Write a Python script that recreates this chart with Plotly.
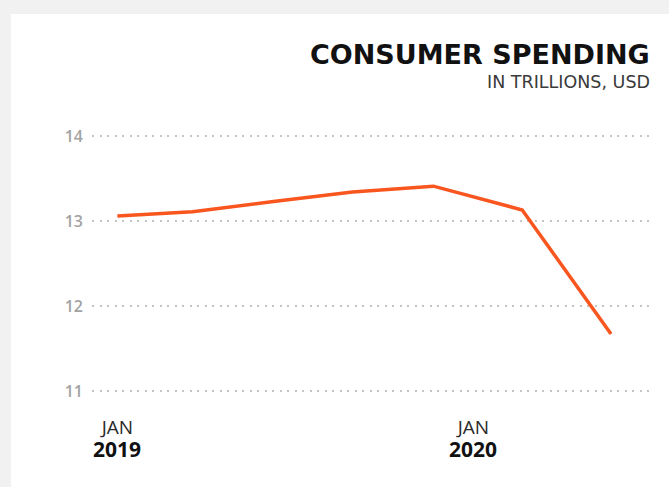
import plotly.graph_objects as go

# Consumer spending, trillions of USD
dates = ["2019-01-01", "2019-03-19", "2019-06-10", "2019-08-30",
         "2019-11-21", "2020-02-20", "2020-05-21"]
spending = [13.06, 13.11, 13.23, 13.34, 13.41, 13.13, 11.67]

y_ticks = [11, 12, 13, 14]
x_tick_dates = ["2019-01-01", "2020-01-01"]
x_tick_months = ["JAN", "JAN"]
x_tick_years = ["2019", "2020"]

title_text = "CONSUMER SPENDING"
subtitle_text = "IN TRILLIONS, USD"

ORANGE = "#F9561F"
X_RANGE = ["2018-12-06", "2020-07-02"]

fig = go.Figure()
fig.add_trace(go.Scatter(
    x=dates, y=spending, mode="lines",
    line=dict(color=ORANGE, width=3.5),
    hoverinfo="skip", showlegend=False,
))

annotations = [
    dict(text=f"<b>{title_text}</b>", xref="paper", yref="paper",
         x=1, y=1, xanchor="right", yanchor="middle", yshift=65,
         showarrow=False,
         font=dict(family="DejaVu Sans", size=27, color="#111111")),
    dict(text=subtitle_text, xref="paper", yref="paper",
         x=1, y=1, xanchor="right", yanchor="middle", yshift=37,
         showarrow=False,
         font=dict(family="DejaVu Sans", size=17.5, color="#3a3a3a")),
]
# year labels under the month ticks
for d, yr in zip(x_tick_dates, x_tick_years):
    annotations.append(dict(
        text=f"<b>{yr}</b>", xref="x", yref="paper", x=d, y=0,
        xanchor="center", yanchor="middle", yshift=-41, showarrow=False,
        font=dict(family="Open Sans", size=21, color="#111111"),
    ))

fig.update_layout(
    width=669, height=487,
    margin=dict(l=92, r=17, t=119, b=79),
    paper_bgcolor="#f1f1f1",
    plot_bgcolor="white",
    xaxis=dict(
        type="date", range=X_RANGE,
        tickvals=x_tick_dates, ticktext=x_tick_months,
        tickfont=dict(family="Open Sans", size=19, color="#2a2a2a"),
        showgrid=False, zeroline=False, showline=False, ticks="",
        ticklabelstandoff=6,
    ),
    yaxis=dict(
        range=[10.8, 14.2],
        tickvals=y_ticks,
        tickfont=dict(family="Open Sans", size=16, color="#a3a3a3", weight=600),
        showgrid=True, gridcolor="#c4c4c4", gridwidth=1.5, griddash="2px,5.5px",
        zeroline=False, showline=False, ticks="",
        ticklabelstandoff=8,
    ),
    shapes=[
        # white card behind the chart
        dict(type="rect", xref="paper", yref="paper",
             xsizemode="pixel", ysizemode="pixel", xanchor=0, yanchor=1,
             x0=-81, x1=600, y0=105, y1=-600,
             fillcolor="white", line=dict(width=0), layer="below"),
    ],
    annotations=annotations,
)

fig.write_html("out.html")
